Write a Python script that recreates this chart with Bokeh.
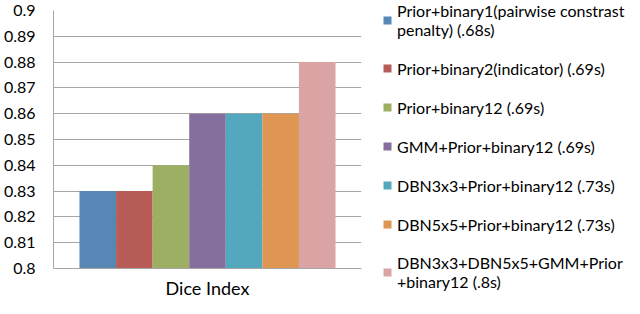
from bokeh.plotting import figure
from bokeh.models import (ColumnDataSource, Range1d, FixedTicker,
                          NumeralTickFormatter, Legend, LegendItem)
from bokeh.embed import file_html
from bokeh.resources import INLINE

# ---- data ----
series = [
    "Prior+binary1(pairwise constrast\npenalty) (.68s)",
    "Prior+binary2(indicator) (.69s)",
    "Prior+binary12 (.69s)",
    "GMM+Prior+binary12 (.69s)",
    "DBN3x3+Prior+binary12 (.73s)",
    "DBN5x5+Prior+binary12 (.73s)",
    "DBN3x3+DBN5x5+GMM+Prior\n+binary12 (.8s)",
]
dice = [0.83, 0.83, 0.84, 0.86, 0.86, 0.86, 0.88]
colors = ["#5787B4", "#B85C57", "#9CAF63", "#856F9C", "#53A8BD", "#E09653", "#DBA4A4"]
y_ticks = [0.8, 0.81, 0.82, 0.83, 0.84, 0.85, 0.86, 0.87, 0.88, 0.89, 0.9]
category = "Dice Index"

FONT = "Lato"
GRID = "#a6a6a6"
GAP = 0.71  # empty space at each end of the category, in bar widths

n = len(series)
pos = list(range(n))
src = ColumnDataSource(dict(x=pos, top=dice, color=colors, label=series))

p = figure(frame_width=308, frame_height=258, output_backend="svg", toolbar_location=None,
           x_range=Range1d(-0.5 - GAP, n - 0.5 + GAP),
           y_range=Range1d(y_ticks[0], y_ticks[-1]),
           min_border_left=46, min_border_top=10, min_border_bottom=30,
           min_border_right=270)

r = p.vbar(x="x", top="top", bottom=y_ticks[0], width=1.0, color="color",
           line_color=None, source=src)

p.outline_line_color = None
p.background_fill_color = "white"
p.border_fill_color = "white"

# y axis
p.yaxis.ticker = FixedTicker(ticks=y_ticks)
p.yaxis.formatter = NumeralTickFormatter(format="0.0[0]")
p.yaxis.major_label_text_font = FONT
p.yaxis.major_label_text_font_size = "16px"
p.yaxis.major_label_text_color = "black"
p.yaxis.major_tick_line_color = None
p.yaxis.minor_tick_line_color = None
p.yaxis.axis_line_color = GRID
p.yaxis.major_label_standoff = 12
p.ygrid.grid_line_color = GRID
p.xgrid.grid_line_color = None

# x axis (single category, no tick labels)
p.xaxis.ticker = FixedTicker(ticks=[])
p.xaxis.axis_label = category
p.xaxis.axis_label_text_font = FONT
p.xaxis.axis_label_text_font_size = "18px"
p.xaxis.axis_label_text_font_style = "normal"
p.xaxis.axis_label_text_color = "black"
p.xaxis.major_tick_line_color = None
p.xaxis.minor_tick_line_color = None
p.xaxis.axis_line_color = GRID
p.xaxis.axis_label_standoff = 8

items = [LegendItem(label=series[i], renderers=[r], index=i) for i in range(n)]
legend = Legend(items=items, location=(21, -23), orientation="vertical",
                label_text_font=FONT, label_text_font_size="16px",
                label_text_color="black", glyph_width=10, glyph_height=10,
                label_standoff=5, spacing=19, padding=0, margin=0,
                border_line_color=None, background_fill_alpha=0,
                label_height=20, label_text_line_height=1.1)
p.add_layout(legend, "right")

open("out.html", "w").write(file_html(p, INLINE))
